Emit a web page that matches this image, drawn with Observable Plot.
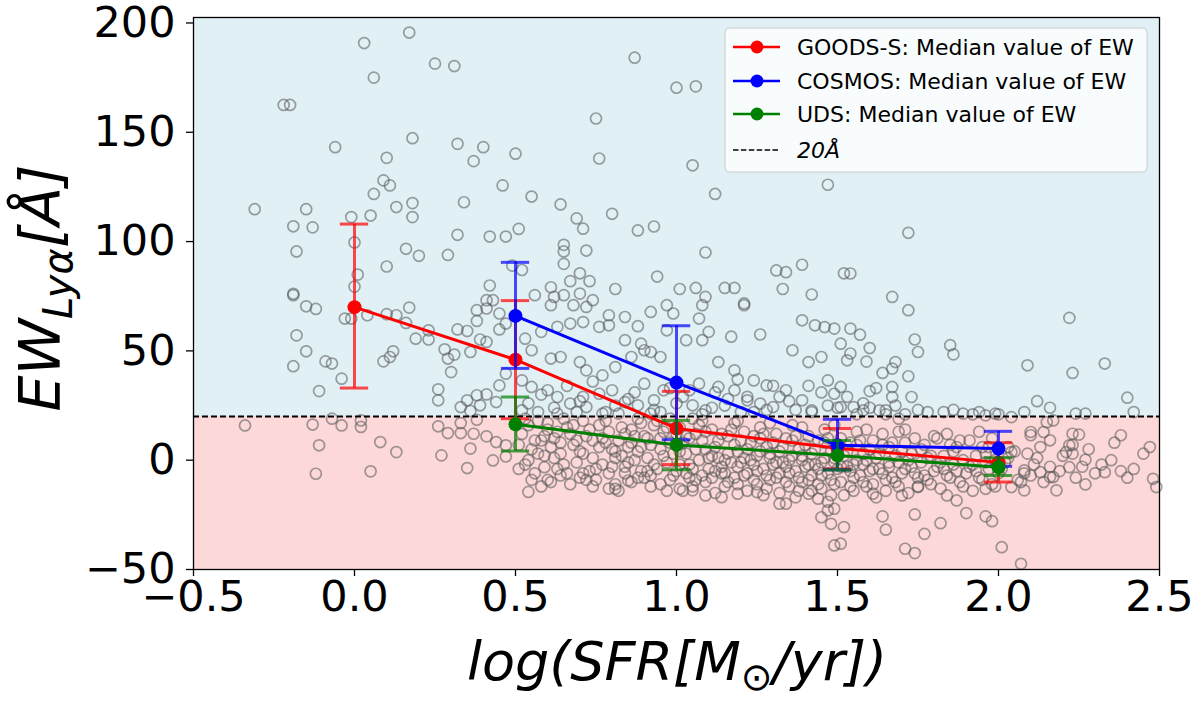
<!DOCTYPE html>
<html>
<head>
<meta charset="utf-8">
<script src="https://cdn.jsdelivr.net/npm/d3@7"></script>
<script src="https://cdn.jsdelivr.net/npm/@observablehq/plot@0.6"></script>
<style>
  body { margin: 0; background: white; }
  svg { display: block; }
</style>
</head>
<body>
<div id="chart"></div>
<script>
// axis setup
const xDomain = [-0.5, 2.5];
const yDomain = [-50, 202.5];
const xTicks = [-0.5, 0, 0.5, 1.0, 1.5, 2.0, 2.5];
const yTicks = [-50, 0, 50, 100, 150, 200];
const ewCut = 20;

// median values of EW in SFR bins, with error bar ends
const sfrBins = [0, 0.5, 1.0, 1.5, 2.0];
const goodsMedian = [70, 46, 14.5, 5.5, -1];
const goodsLow = [33, 19, -2, -4, -10];
const goodsHigh = [108, 73, 31.5, 14.5, 8];
const cosmosMedian = [null, 66, 35.5, 6.8, 5.3];
const cosmosLow = [null, 42, 9.4, -4.4, -2.8];
const cosmosHigh = [null, 90.5, 61.5, 18.7, 13.2];
const udsMedian = [null, 16.4, 7, 2.2, -3.2];
const udsLow = [null, 4.2, -4.4, -4.5, -7];
const udsHigh = [null, 28.9, 18.2, 9, 1.1];

// individual galaxies [log SFR, EW]
const galaxies = [
  [0.17,195.6],[0.03,190.8],[0.25,181.4],[0.31,180.3],[0.06,175],[-0.22,162.5],[-0.2,162.5],[-0.06,143.2],[0.18,147.3],[0.1,138.3],
  [0.32,144.7],[0.4,143.2],[0.37,136.8],[0.5,140.2],[0.09,128],[0.11,125.7],[0.06,121.8],[0.46,125.7],[-0.31,114.8],[-0.15,114.8],
  [0.13,115.8],[0.18,117.6],[0.34,118],[-0.01,111.2],[0.05,111.9],[0.18,111.2],[-0.19,107],[-0.13,106.5],[0.32,103.1],[0.42,102.3],
  [0.47,102.3],[0.51,105.8],[0,99.6],[-0.18,95.5],[0.16,96.7],[0.2,93.5],[0.29,93.9],[0.1,88.6],[0.01,84.9],[0,79.4],
  [-0.19,76.1],[0.42,79.9],[0.49,89],
  [0.87,184.1],[1.0,170.4],[1.06,171],[0.75,156.3],[0.76,138],[1.05,134.9],[0.55,120.6],[0.64,117],[1.12,121.8],[1.47,126],
  [0.69,110.6],[0.71,105.9],[0.8,112.7],[0.88,105.1],[0.93,106.9],[0.65,98.5],[0.65,95.5],[0.72,95.9],[0.65,89.8],[1.09,95],
  [0.7,85.5],[0.67,81.9],[0.73,81.9],[0.61,79.1],[0.81,78.3],[0.94,84],[1.01,78.3],[1.06,78.8],[1.15,78.8],[1.18,78.8],
  [1.31,86.8],[1.34,86],[1.39,89.4],[1.52,85.5],[1.33,78.3],[1.42,75.8],[0.52,87],
  [1.72,104],[1.54,85.4],[1.67,74.7],[1.72,68.6],[2.22,65.1],[1.54,60.2],[1.57,57.4],[1.6,51.3],[1.54,48.8],[1.74,55.2],
  [1.75,49.5],[1.85,52.6],[1.86,48.4],[1.59,45.1],[1.68,44.9],[1.67,41.9],[1.64,39.9],[1.72,38.4],[2.09,43.4],[2.23,39.9],
  [2.33,44.2],[1.6,31.6],[1.67,33.5],[1.67,28.9],[1.73,28.9],[2.4,28.6],
  [-0.19,75.5],[-0.15,70.4],[-0.12,69.2],[-0.03,64.8],[-0.01,64.8],[0.04,66.3],[0.1,66.8],[0.13,66.3],[0.17,69.8],[0.16,62.8],
  [-0.18,57.1],[0.19,55.6],[0.23,55.2],[0.23,59.4],[-0.15,49.8],[-0.09,45.2],[-0.07,44.2],[-0.19,43],[0.09,45.2],[0.11,47.2],
  [0.12,49.8],[-0.04,37.3],[-0.11,31.6],[0.28,50.7],[0.31,48.3],[0.29,46.5],[0.36,49.5],[0.3,40.3],[0.26,32.4],[0.26,27.4],
  [0.32,59.8],[0.35,59.1],[0.38,68.6],[0.38,63.7],[0.41,69.4],[0.43,73.2],[0.41,73.2],[0.39,55.2],[0.41,54.1],[0.45,67.1],
  [0.47,62.5],[0.45,59.8],[0.33,24.3],[0.35,27.4],[0.38,29.7],[0.41,30.1],[0.39,25.1],[0.36,22.5],[0.45,34.2],[0.44,26.6],
  [0.47,39.6],
  [-0.34,15.9],[-0.13,16.3],[-0.07,19],[-0.04,15.9],[0.02,18.2],[0.02,15.2],[-0.11,6.8],[0.08,8.3],[0.13,3.7],[-0.12,-6.2],
  [0.05,-5.1],[0.26,15.5],[0.29,12.4],[0.33,12.4],[0.33,17],[0.37,12.1],[0.38,18.5],[0.41,10.9],[0.44,8.3],[0.47,6.8],
  [0.47,1.7],[0.43,-0.1],[0.36,5.3],[0.27,2.2],[0.35,-3.6],
  [0.56,75.5],[0.62,74.7],[0.65,75.5],[0.7,76.2],[0.74,73.2],[1.09,74.7],[1.21,71.7],
  [0.61,70.9],[0.68,70.9],[0.72,70.1],[0.79,66.3],[0.84,65.5],[0.88,61.3],[0.92,67.8],[0.97,70.9],[0.99,67.1],[1.08,70.9],
  [1.07,64.8],[1.21,70.9],[1.39,64],[1.43,61.7],[1.46,60.9],[1.49,60.2],
  [0.53,55.6],[0.58,58.7],[0.63,61],[0.67,62.5],[0.71,63.2],[0.76,61],[0.79,61.7],[0.84,54.9],[0.89,53.3],[0.97,59.4],
  [1.03,54.9],[1.08,54.9],[1.1,58.7],[1.17,56.5],[1.26,57.5],[1.51,53.3],
  [0.55,50.3],[0.61,46.5],[0.64,47.2],[0.7,44.9],[0.72,41.1],[0.77,38.8],[0.81,42.6],[0.86,47.2],[0.9,50.3],[0.92,49.5],
  [0.95,47.2],[1.13,44.9],[1.18,41.1],[1.24,36.5],[1.28,34.2],[1.36,50.3],[1.41,44.9],[1.45,47.2],[1.47,36.5],[1.51,33.5],
  [1.53,45.7],
  [0.52,36.5],[0.55,33.5],[0.6,32],[0.63,28.9],[0.67,25.9],[0.72,24.3],[0.76,30.4],[0.8,32],[0.84,26.6],[0.88,25.1],
  [0.93,27.4],[0.96,32],[1.04,32],[1.05,25.1],[1.09,22.8],[1.13,33.5],[1.18,32],[1.22,27.4],[1.26,25.9],[1.3,24.3],
  [1.34,32],[1.39,27.4],[1.42,22.8],[1.49,30.4],[1.51,24.3],[0.52,22.8],[0.57,22],[0.63,21.3],[0.69,22],[0.77,21.3],
  [0.82,21.3],[0.92,21.3],[1.2,22],
  [0.62,24],[0.7,27],[0.78,22],[0.85,28],[0.93,23],[1.0,26],[1.08,21],[1.15,25],[1.22,29],[1.28,23],
  [1.35,27],[1.42,22],[1.5,24],[1.58,26],[1.65,21],[1.75,23],[1.83,22],[1.92,21],[0.98,33],[1.12,31],
  [1.3,34],[1.45,31],[1.62,33],
  [0.54,26],[0.58,30],[0.66,34],[0.71,29],[0.74,36],[0.81,25],[0.87,31],[0.9,35],[0.95,22],[1.02,29],
  [1.07,35],[1.11,24],[1.16,28],[1.19,37],[1.24,22],[1.32,29],[1.37,23],[1.41,34],[1.47,25],[1.53,29],
  [1.56,21],[1.6,24],[1.68,25],[1.71,21],[1.78,22],[1.86,23],[1.94,22],[2.0,21],[2.08,22],[2.12,27],[2.16,24],
  [0.54,-14.5],[0.81,-13.1],[0.85,-9.3],[1.01,-13.1],[1.05,-13.8],[1.09,-16.1],[1.14,-16.9],[1.19,-15.3],[1.25,-14.6],[1.32,-19.9],
  [1.34,-19.9],[1.41,-15.3],[1.44,-17.6],[1.47,-23],[1.49,-22.2],[1.45,-26.1],[1.48,-29.1],[1.52,-30.6],[1.49,-39],[1.51,-38.2],
  [0.59,-3.2],
  [2.42,22],[1.55,24.3],[1.58,22.8],[1.63,22.8],[1.65,22.8],[1.69,19],[1.89,21.3],[1.96,20.5],[1.99,21.3],[2.04,19.7],
  [2.24,21.3],[2.27,21.3],[2.15,17.4],[2.17,18.2],[2.14,12.9],[2.1,12.9],[2.1,11.4],[2.16,9.1],[2.13,6],[2.23,12.1],
  [2.25,11.7],[2.22,6.8],[2.21,3.7],[2.23,3],[2.27,0.2],[2.38,11.4],[2.22,-3.2],[2.33,-5.5],[2.38,-5],[2.4,-8],
  [2.27,-11.1],[2.48,-8.5],[2.49,-12.3],[2.18,-13.8],[2.08,-4.7],[2.1,-7],[2.13,-5.5],[2.16,-7.7],[2.17,-7.7],[2.07,-10],
  [2.08,-13.8],[2.04,-12.3],[1.96,-13.1],[2.03,6],[2.04,3.7],
  [1.64,-25.7],[1.65,-31.8],[1.74,-24.8],[1.77,-33.7],[1.82,-28.8],[1.9,-24.2],[1.96,-25.7],[1.98,-27.9],[1.71,-40.5],[1.74,-42.5],
  [2.01,-39.8],[2.07,-47.4],[1.84,-16.1],[1.87,-18.4],[1.61,-15.3],[1.7,-16.1],[1.75,-12.3],
  // dense clump below 20 A
  [0.52,12],[0.55,5],[0.57,18],[0.53,-2],[0.58,9],[0.6,14],[0.56,-6],[0.59,2],[0.54,16],[0.6,-9],
  [0.62,10],[0.64,3],[0.66,15],[0.63,-4],[0.68,7],[0.65,19],[0.69,-1],[0.61,-10],[0.67,12],[0.7,4],[0.64,-7],
  [0.72,11],[0.74,1],[0.76,16],[0.73,-5],[0.78,8],[0.75,-9],[0.79,13],[0.71,18],[0.77,-2],[0.8,5],[0.74,-12],[0.79,-6],
  [0.82,9],[0.84,-3],[0.86,14],[0.83,2],[0.88,-8],[0.85,6],[0.89,17],[0.81,-11],[0.87,0],[0.9,11],[0.84,-6],[0.86,-10],[0.88,4],
  [0.92,7],[0.94,-4],[0.96,13],[0.91,1],[0.98,-9],[0.95,10],[0.99,3],[0.93,16],[0.97,-1],[0.92,-7],[1.0,-5],[0.95,-11],[0.98,19],
  [1.02,8],[1.04,-2],[1.06,12],[1.03,3],[1.08,-7],[1.05,-12],[1.09,5],[1.01,15],[1.07,0],[1.1,-4],[1.04,10],[1.06,-9],[1.08,18],[1.03,-6],
  [1.12,6],[1.14,-3],[1.16,11],[1.13,1],[1.18,-8],[1.15,-12],[1.19,4],[1.11,14],[1.17,-1],[1.2,9],[1.14,-6],[1.16,-10],[1.18,17],[1.12,-5],[1.19,-3],
  [1.22,5],[1.24,-2],[1.26,10],[1.23,0],[1.28,-7],[1.25,-11],[1.29,3],[1.21,13],[1.27,-4],[1.3,8],[1.24,-9],[1.26,15],[1.28,-13],[1.22,-6],[1.29,1],
  [1.32,4],[1.34,-3],[1.36,9],[1.33,-1],[1.38,-8],[1.35,-12],[1.39,2],[1.31,12],[1.37,-5],[1.4,7],[1.34,-10],[1.36,16],[1.38,-14],[1.32,-6],[1.39,0],
  [1.42,3],[1.44,-4],[1.46,8],[1.43,-2],[1.48,-9],[1.45,-13],[1.49,1],[1.41,11],[1.47,-6],[1.5,6],[1.44,-11],[1.46,14],[1.48,-16],[1.42,-7],[1.49,-1],
  [1.52,2],[1.54,-5],[1.56,7],[1.53,-3],[1.58,-10],[1.55,-14],[1.59,0],[1.51,10],[1.57,-7],[1.6,5],[1.54,-12],[1.56,13],[1.58,-2],
  [1.62,1],[1.64,-6],[1.66,6],[1.63,-4],[1.68,-10],[1.65,-14],[1.69,-1],[1.61,9],[1.67,-8],[1.7,4],[1.64,12],[1.66,-3],
  [1.72,0],[1.74,-6],[1.76,5],[1.73,-3],[1.78,-9],[1.75,-12],[1.79,2],[1.71,8],[1.77,-7],[1.8,11],
  [1.82,-1],[1.84,-7],[1.86,4],[1.83,-4],[1.88,-10],[1.85,7],[1.89,0],[1.81,10],[1.87,-5],
  [1.92,-2],[1.94,-8],[1.96,3],[1.93,-5],[1.98,-11],[1.95,6],[1.99,0],[1.91,9],[1.97,-4],
  [2.02,-1],[2.05,4],[2.08,-6],[2.12,1],[2.16,-3],[2.2,2],[2.24,-8],[2.28,5],[2.32,-2],[2.36,8],[2.45,3],[2.3,-6],
  [0.51,7],[0.53,19],[0.55,-9],[0.57,3],[0.59,11],[0.51,-4],[0.58,-12],[0.6,17],[0.56,9],[0.54,0],
  [0.61,6],[0.63,13],[0.65,-2],[0.67,-11],[0.69,9],[0.62,1],[0.66,-6],[0.68,16],[0.7,-8],[0.64,8],
  [0.71,3],[0.73,14],[0.75,-4],[0.77,10],[0.79,-13],[0.72,-9],[0.76,6],[0.78,18],[0.8,-3],[0.74,9],[0.71,-6],
  [0.81,4],[0.83,15],[0.85,-1],[0.87,11],[0.89,-5],[0.82,-14],[0.86,8],[0.88,19],[0.9,-8],[0.84,12],[0.81,1],[0.89,6],
  [0.91,10],[0.93,-2],[0.95,5],[0.97,15],[0.99,-7],[0.92,-12],[0.96,2],[0.98,8],[1.0,12],[0.94,18],[0.91,-5],[0.97,-14],
  [1.01,4],[1.03,11],[1.05,-4],[1.07,16],[1.09,-10],[1.02,-14],[1.06,5],[1.08,9],[1.1,1],[1.04,-8],[1.01,-2],[1.09,13],[1.05,19],
  [1.11,2],[1.13,9],[1.15,-6],[1.17,14],[1.19,-11],[1.12,-15],[1.16,3],[1.18,7],[1.2,-1],[1.14,12],[1.11,-8],[1.19,18],[1.15,0],
  [1.21,1],[1.23,8],[1.25,-5],[1.27,12],[1.29,-9],[1.22,-14],[1.26,4],[1.28,6],[1.3,-2],[1.24,11],[1.21,-7],[1.29,17],[1.25,2],[1.27,-16],
  [1.31,-1],[1.33,6],[1.35,-6],[1.37,11],[1.39,-10],[1.32,-15],[1.36,2],[1.38,5],[1.4,-3],[1.34,10],[1.31,-8],[1.39,15],[1.35,0],[1.37,-17],
  [1.41,-2],[1.43,5],[1.45,-7],[1.47,10],[1.49,-11],[1.42,-14],[1.46,1],[1.48,4],[1.5,-4],[1.44,9],[1.41,-9],[1.49,16],[1.45,-1],[1.47,-19],
  [1.51,-3],[1.53,4],[1.55,-8],[1.57,9],[1.59,-12],[1.52,-16],[1.56,0],[1.58,3],[1.6,-5],[1.54,8],[1.51,-10],[1.59,14],[1.55,-2],
  [1.61,-4],[1.63,3],[1.65,-9],[1.67,8],[1.69,-12],[1.62,-17],[1.66,-1],[1.68,2],[1.7,-6],[1.64,7],[1.61,-11],[1.69,13],
  [1.71,-4],[1.73,3],[1.75,-8],[1.77,7],[1.79,-11],[1.72,-15],[1.76,-1],[1.78,1],[1.8,-5],[1.74,10],[1.71,14],
  [1.81,-3],[1.83,2],[1.85,-8],[1.87,6],[1.89,-12],[1.82,-13],[1.86,-2],[1.88,9],[1.9,-6],[1.84,12],
  [1.91,-3],[1.93,2],[1.95,-9],[1.97,6],[1.99,-12],[1.92,-14],[1.96,-1],[1.98,10],[2.0,-6],[1.94,13],
  [2.01,-4],[2.03,1],[2.06,-9],[2.09,3],[2.11,-2],[2.14,-10],[2.19,-5],[2.23,7],[2.26,-3],[2.35,0],[2.42,-4],[2.47,6]
];

const series = [
  {label: "GOODS-S: Median value of EW", color: "#ff0000", median: goodsMedian, low: goodsLow, high: goodsHigh},
  {label: "COSMOS: Median value of EW", color: "#0000ff", median: cosmosMedian, low: cosmosLow, high: cosmosHigh},
  {label: "UDS: Median value of EW", color: "#008000", median: udsMedian, low: udsLow, high: udsHigh}
];

const capHalf = 0.044; // half width of error bar caps, in log SFR units

function seriesMarks(s) {
  const rows = sfrBins
    .map((x, i) => ({x, m: s.median[i], lo: s.low[i], hi: s.high[i]}))
    .filter(d => d.m != null);
  const bar = {stroke: s.color, strokeOpacity: 0.7, strokeWidth: 3};
  return [
    Plot.ruleX(rows, {x: "x", y1: "lo", y2: "hi", ...bar}),
    Plot.ruleY(rows, {y: "lo", x1: d => d.x - capHalf, x2: d => d.x + capHalf, ...bar}),
    Plot.ruleY(rows, {y: "hi", x1: d => d.x - capHalf, x2: d => d.x + capHalf, ...bar}),
    Plot.line(rows, {x: "x", y: "m", stroke: s.color, strokeWidth: 3}),
    Plot.dot(rows, {x: "x", y: "m", r: 7, fill: s.color})
  ];
}

const chart = Plot.plot({
  width: 1200,
  height: 704,
  marginLeft: 193,
  marginRight: 41,
  marginTop: 17,
  marginBottom: 135,
  x: {domain: xDomain},
  y: {domain: yDomain},
  style: {fontFamily: "DejaVu Sans", fontSize: "43px", color: "black", background: "white", overflow: "visible"},
  marks: [
    Plot.rect([{lo: ewCut, hi: yDomain[1]}], {x1: () => xDomain[0], x2: () => xDomain[1], y1: "lo", y2: "hi", fill: "#e1f0f5"}),
    Plot.rect([{lo: yDomain[0], hi: ewCut}], {x1: () => xDomain[0], x2: () => xDomain[1], y1: "lo", y2: "hi", fill: "#fdd8d8"}),
    Plot.dot(galaxies, {x: d => d[0], y: d => d[1], r: 5.5, stroke: "#555555", strokeOpacity: 0.55, strokeWidth: 1.7, fill: "none"}),
    Plot.ruleY([ewCut], {stroke: "black", strokeWidth: 2, strokeDasharray: "6,3"}),
    ...series.flatMap(seriesMarks),
    Plot.frame({stroke: "black", strokeWidth: 1.3}),
    Plot.axisX({ticks: xTicks, tickFormat: d3.format(".1f"), tickSize: 7, tickPadding: 4, label: null, strokeWidth: 1.3}),
    Plot.axisY({ticks: yTicks, tickFormat: d3.format("d"), tickSize: 7, tickPadding: 11, label: null, strokeWidth: 1.3})
  ]
});

document.getElementById("chart").append(chart);

const svg = d3.select(chart);

// axis titles (matplotlib mathtext look)
const xt = svg.append("text")
  .attr("x", 677).attr("y", 680)
  .attr("text-anchor", "middle")
  .attr("font-family", "DejaVu Sans")
  .attr("font-style", "italic")
  .attr("font-size", 54);
xt.append("tspan").text("log(SFR[M");
xt.append("tspan").attr("font-size", 38).attr("dy", 10).text("⊙");
xt.append("tspan").attr("dy", -10).text("/yr])");

const yt = svg.append("text")
  .attr("transform", "translate(60,288) rotate(-90)")
  .attr("text-anchor", "middle")
  .attr("font-family", "DejaVu Sans")
  .attr("font-style", "italic")
  .attr("font-size", 57);
yt.append("tspan").text("EW");
yt.append("tspan").attr("font-size", 40).attr("dy", 12).text("Lyα");
yt.append("tspan").attr("dy", -12).text("[Å]");

// legend
const lg = svg.append("g")
  .attr("font-family", "DejaVu Sans")
  .attr("font-size", 22)
  .attr("text-anchor", "start");
lg.append("rect")
  .attr("x", 725).attr("y", 28).attr("width", 422).attr("height", 144).attr("rx", 4)
  .attr("fill", "white").attr("fill-opacity", 0.8).attr("stroke", "#cccccc");
const rowY = [47, 81, 114, 150];
series.forEach((s, i) => {
  lg.append("line").attr("x1", 733).attr("x2", 780).attr("y1", rowY[i]).attr("y2", rowY[i])
    .attr("stroke", s.color).attr("stroke-width", 2.5);
  lg.append("circle").attr("cx", 757).attr("cy", rowY[i]).attr("r", 6.5).attr("fill", s.color);
  lg.append("text").attr("x", 797).attr("y", rowY[i]).attr("dy", "0.35em").text(s.label);
});
lg.append("line").attr("x1", 733).attr("x2", 780).attr("y1", rowY[3]).attr("y2", rowY[3])
  .attr("stroke", "black").attr("stroke-width", 1.5).attr("stroke-dasharray", "5.5,2.4");
lg.append("text").attr("x", 797).attr("y", rowY[3]).attr("dy", "0.35em")
  .attr("font-style", "italic").text("20Å");
</script>
</body>
</html>
